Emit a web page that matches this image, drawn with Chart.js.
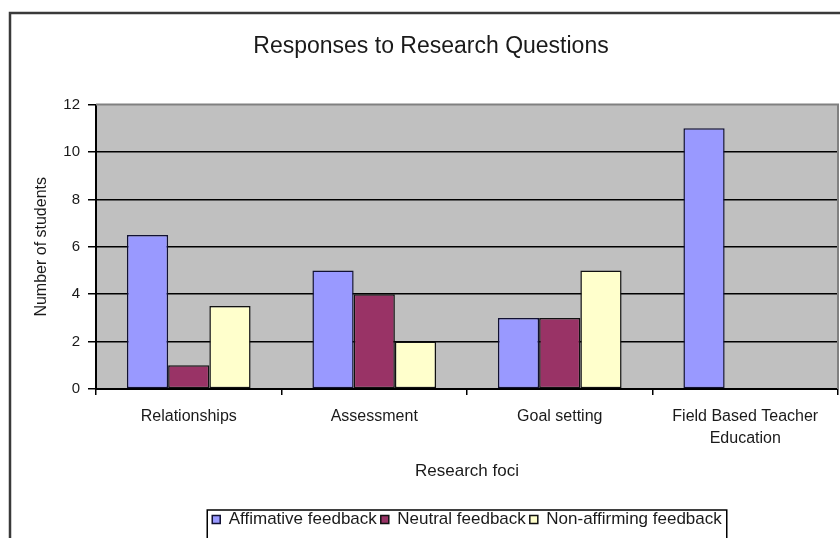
<!DOCTYPE html>
<html>
<head>
<meta charset="utf-8">
<script src="https://cdn.jsdelivr.net/npm/chart.js@4/dist/chart.umd.min.js"></script>
<style>
  html, body { margin: 0; padding: 0; background: #fff; }
  #wrap { width: 840px; height: 538px; position: relative; }
</style>
</head>
<body>
<div id="wrap"><canvas id="c" width="840" height="538"></canvas></div>
<script>
const categories = ['Relationships', 'Assessment', 'Goal setting', ['Field Based Teacher', 'Education']];
const affirmative = [6.5, 5, 3, 11];
const neutral = [1, 4, 3, null];
const nonAffirming = [3.5, 2, 5, null];
const seriesNames = ['Affimative feedback', 'Neutral feedback', 'Non-affirming feedback'];
const yTicks = [0, 2, 4, 6, 8, 10, 12];

const FONT = "'Liberation Sans', Arial, sans-serif";
const TXT = '#1a1a1a';

const decor = {
  id: 'decor',
  afterLayout(chart) {
    const t = chart.titleBlock;
    if (t) { t.left += 12; t.right += 12; }
  },
  beforeDraw(chart) {
    const { ctx, chartArea: a } = chart;
    ctx.save();
    ctx.fillStyle = '#ffffff';
    ctx.fillRect(0, 0, chart.width, chart.height);
    ctx.fillStyle = '#C0C0C0';
    ctx.fillRect(a.left, a.top, a.right - a.left, a.bottom - a.top);
    ctx.restore();
  },
  afterDraw(chart) {
    const { ctx, chartArea: a } = chart;
    ctx.save();
    ctx.strokeStyle = '#808080';
    ctx.lineWidth = 2;
    ctx.beginPath();
    ctx.moveTo(a.left, a.top);
    ctx.lineTo(a.right, a.top);
    ctx.lineTo(a.right, a.bottom);
    ctx.stroke();
    ctx.strokeStyle = '#3a3a3a';
    ctx.lineWidth = 2.5;
    ctx.strokeRect(10, 13, 900, 600);
    const lg = chart.legend;
    if (lg && lg.legendHitBoxes && lg.legendHitBoxes.length) {
      let l = Infinity, r = -Infinity;
      lg.legendHitBoxes.forEach(h => { l = Math.min(l, h.left); r = Math.max(r, h.left + h.width); });
      ctx.strokeStyle = '#000';
      ctx.lineWidth = 1.5;
      ctx.strokeRect(l - 5, lg.top + 3, (r - l) + 10, lg.height + 4);
    }
    ctx.restore();
  }
};

new Chart(document.getElementById('c'), {
  type: 'bar',
  data: {
    labels: categories,
    datasets: [
      { label: seriesNames[0], data: affirmative, backgroundColor: '#9999FF', borderColor: '#111133', borderWidth: 1.5 },
      { label: seriesNames[1], data: neutral, backgroundColor: '#993366', borderColor: '#111', borderWidth: 1.5 },
      { label: seriesNames[2], data: nonAffirming, backgroundColor: '#FFFFCC', borderColor: '#111', borderWidth: 1.5 }
    ]
  },
  options: {
    responsive: false,
    animation: false,
    layout: { padding: { left: 0, right: 2, top: 0, bottom: 0 } },
    datasets: { bar: { barPercentage: 1.0, categoryPercentage: 3 / 4.5, borderSkipped: false } },
    plugins: {
      tooltip: { enabled: false },
      title: {
        display: true,
        text: 'Responses to Research Questions',
        color: TXT,
        font: { family: FONT, size: 23, weight: 'normal', lineHeight: 1.2 },
        padding: { top: 33, bottom: 44 }
      },
      legend: {
        position: 'bottom',
        fullSize: false,
        labels: {
          color: TXT,
          font: { family: FONT, size: 17 },
          boxWidth: 8,
          boxHeight: 8,
          padding: 4
        }
      }
    },
    scales: {
      x: {
        grid: { display: true, drawOnChartArea: false, drawTicks: true, tickLength: 6, color: '#000', offset: true, lineWidth: 1.5 },
        border: { display: true, color: '#000', width: 2 },
        ticks: { color: TXT, font: { family: FONT, size: 16, lineHeight: 1.4 }, padding: 10, maxRotation: 0, autoSkip: false },
        title: { display: true, text: 'Research foci', color: TXT, font: { family: FONT, size: 17, lineHeight: 1.2 }, padding: { top: 0, bottom: 25 } },
        afterFit(scale) { scale.height = 118; }
      },
      y: {
        min: 0,
        max: 12,
        afterBuildTicks(scale) { scale.ticks = yTicks.map(v => ({ value: v })); },
        grid: {
          color: ctx => (ctx.tick && ctx.tick.value === 12) ? 'rgba(0,0,0,0)' : '#000',
          tickColor: '#000',
          lineWidth: 1.5,
          tickLength: 8,
          drawTicks: true
        },
        border: { display: true, color: '#000', width: 2 },
        ticks: { color: TXT, font: { family: FONT, size: 15 }, padding: 8 },
        title: { display: true, text: 'Number of students', color: TXT, font: { family: FONT, size: 16, lineHeight: 1.2 }, padding: { top: 32, bottom: 0 } },
        afterFit(scale) { scale.width = 96; }
      }
    }
  },
  plugins: [decor]
});
</script>
</body>
</html>
